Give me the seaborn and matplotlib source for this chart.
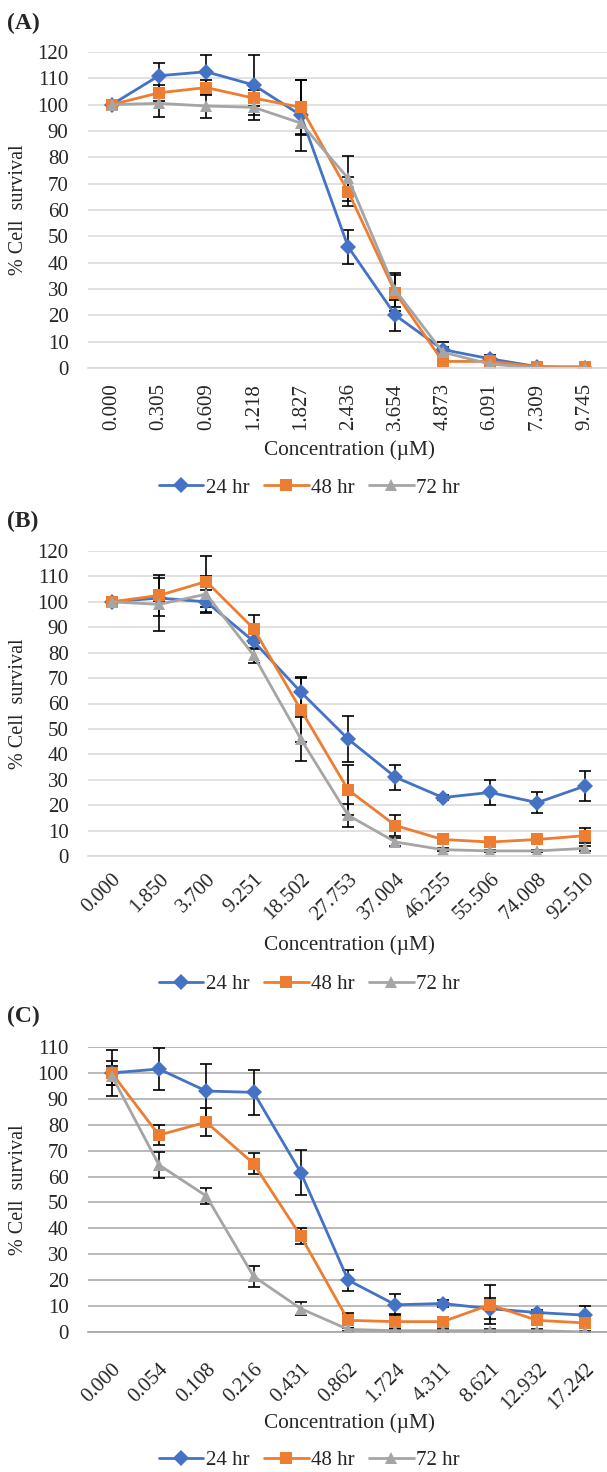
import pandas as pd
import matplotlib
matplotlib.use("Agg")
import matplotlib.pyplot as plt
from matplotlib.ticker import FixedLocator
import seaborn as sns

W, H = 607, 1472

times = ["24 hr", "48 hr", "72 hr"]
colors = ["#4472C4", "#ED7D31", "#A5A5A5"]
marks = ["D", "s", "^"]

# panel A
conc_a = ["0.000", "0.305", "0.609", "1.218", "1.827", "2.436", "3.654", "4.873", "6.091", "7.309", "9.745"]
a24 = [100, 111, 112.5, 107.5, 96, 46, 20, 7, 3.5, 0.5, 0]
a48 = [100, 104.5, 106.5, 102.5, 99, 67, 28.5, 2.5, 2.5, 0.5, 0.5]
a72 = [100, 100.5, 99.5, 99, 93, 72, 29.5, 6, 1.5, 0, 0]
a24_err = [0, 5, 6.5, 11.5, 13.5, 6.5, 6, 3, 1.5, 0, 0]
a48_err = [0, 3, 3, 3, 10.5, 5.5, 7, 1, 1, 0, 0]
a72_err = [0, 5, 4.5, 5, 4, 8.5, 6.5, 2, 1, 0, 0]

# panel B
conc_b = ["0.000", "1.850", "3.700", "9.251", "18.502", "27.753", "37.004", "46.255", "55.506", "74.008", "92.510"]
b24 = [100, 101.5, 100, 84.5, 64.5, 46, 31, 23, 25, 21, 27.5]
b48 = [100, 102.5, 108, 89.5, 57.5, 26, 12, 6.5, 5.5, 6.5, 8]
b72 = [100, 99, 103, 79, 46, 16, 5.5, 2.5, 2, 2, 3]
b24_err = [0, 1, 4.5, 3, 6, 9, 5, 1, 5, 4, 6]
b48_err = [0, 8, 10, 5.5, 12.5, 10, 4, 1, 1, 1, 3]
b72_err = [0, 10.5, 7, 3, 8.5, 4.5, 1.5, 0.5, 0.5, 0.5, 1]

# panel C
conc_c = ["0.000", "0.054", "0.108", "0.216", "0.431", "0.862", "1.724", "4.311", "8.621", "12.932", "17.242"]
c24 = [100, 101.5, 93, 92.5, 61.5, 20, 10.5, 11, 9, 7.5, 6.5]
c48 = [100, 76, 81, 65, 37, 4.5, 4, 4, 10.5, 4.5, 3.5]
c72 = [99, 64.5, 52.5, 21.5, 9, 1, 0.5, 0.5, 0.5, 0.5, 0]
c24_err = [9, 8.2, 10.5, 8.7, 8.6, 4, 4, 1.5, 4, 1, 3.5]
c48_err = [4.5, 4, 5.5, 4, 3, 3, 3, 1, 7.5, 1, 1]
c72_err = [3.5, 5, 3, 4, 2.5, 0.5, 0.5, 0.5, 0.5, 0.5, 0.5]

sns.set_style("white")
plt.rcParams["font.family"] = ["Liberation Serif", "DejaVu Serif"]

fig = plt.figure(figsize=(W / 100, H / 100), dpi=100)


def fx(px):
    return px / W


def fy(py):
    return 1 - py / H


def panel(letter, conc, series, errs, ymax, top, bottom, rot, grid_color,
          letter_y, xlabel_y, legend_y, ticks_c=False, tick_pad=10):
    left, right = 88, 607
    ax = fig.add_axes([fx(left), fy(bottom), fx(right - left), (bottom - top) / H])

    rows = []
    for t, vals in zip(times, series):
        for i, (c, v) in enumerate(zip(conc, vals)):
            rows.append({"pos": i, "conc": c, "time": t, "survival": v})
    df = pd.DataFrame(rows)

    for t, vals, e in zip(times, series, errs):
        ax.errorbar(range(len(conc)), vals, yerr=e, fmt="none", ecolor="black",
                    elinewidth=1.2, capsize=4, capthick=1.2, zorder=1.8)

    sns.lineplot(data=df, x="pos", y="survival", hue="time", style="time",
                 palette=dict(zip(times, colors)), markers=dict(zip(times, marks)),
                 dashes=False, linewidth=2, markersize=8, markeredgewidth=0,
                 ax=ax, legend=True, zorder=2.5)
    handles, labels = ax.get_legend_handles_labels()
    ax.get_legend().remove()

    ax.set_xlim(-0.5, (right - left) / 47.3 - 0.5)
    ax.set_ylim(0, ymax)
    ax.set_yticks(range(0, ymax + 1, 10))
    ax.set_xticks(range(len(conc)))
    if rot == 90:
        ax.set_xticklabels(conc, rotation=90, ha="center", va="top")
    else:
        ax.set_xticklabels(conc, rotation=45, ha="right", va="top", rotation_mode="anchor")
    ax.tick_params(axis="both", labelsize=15, length=0)
    ax.tick_params(axis="y", pad=14)
    ax.tick_params(axis="x", pad=tick_pad)
    if ticks_c:
        ax.xaxis.set_minor_locator(FixedLocator([i - 0.5 for i in range(len(conc) + 1)]))
        ax.tick_params(axis="x", which="minor", length=5, width=1, color=grid_color)

    ax.grid(axis="y", color=grid_color, linewidth=1.1)
    ax.grid(axis="x", visible=False)
    ax.set_axisbelow(True)
    for s in ["top", "right", "left"]:
        ax.spines[s].set_visible(False)
    ax.spines["bottom"].set_color(grid_color)
    ax.spines["bottom"].set_linewidth(1.2)
    ax.set_xlabel("")
    ax.set_ylabel("")

    fig.text(fx(7), fy(letter_y), letter, fontsize=17, fontweight="bold", va="center", ha="left")
    fig.text(fx(19), fy((top + bottom) / 2), "% Cell  survival", rotation=90,
             fontsize=14.5, va="center", ha="center")
    fig.text(fx((left + 610) / 2), fy(xlabel_y), "Concentration (µM)", fontsize=15.3,
             va="center", ha="center")
    fig.legend(handles, labels, loc="center", bbox_to_anchor=(fx(309), fy(legend_y)),
               ncol=3, frameon=False, fontsize=15, handlelength=2.15, handletextpad=0.1,
               columnspacing=0.7)
    return ax


panel("(A)", conc_a, [a24, a48, a72], [a24_err, a48_err, a72_err], 120, 52, 368, 90,
      "#d9d9d9", 23, 450, 488, tick_pad=11)
panel("(B)", conc_b, [b24, b48, b72], [b24_err, b48_err, b72_err], 120, 551, 856, 45,
      "#d9d9d9", 521, 945, 984, tick_pad=10)
panel("(C)", conc_c, [c24, c48, c72], [c24_err, c48_err, c72_err], 110, 1047, 1332, 45,
      "#a6a6a6", 1016, 1423, 1460, ticks_c=True, tick_pad=20)

fig.savefig("out.png", dpi=100)
